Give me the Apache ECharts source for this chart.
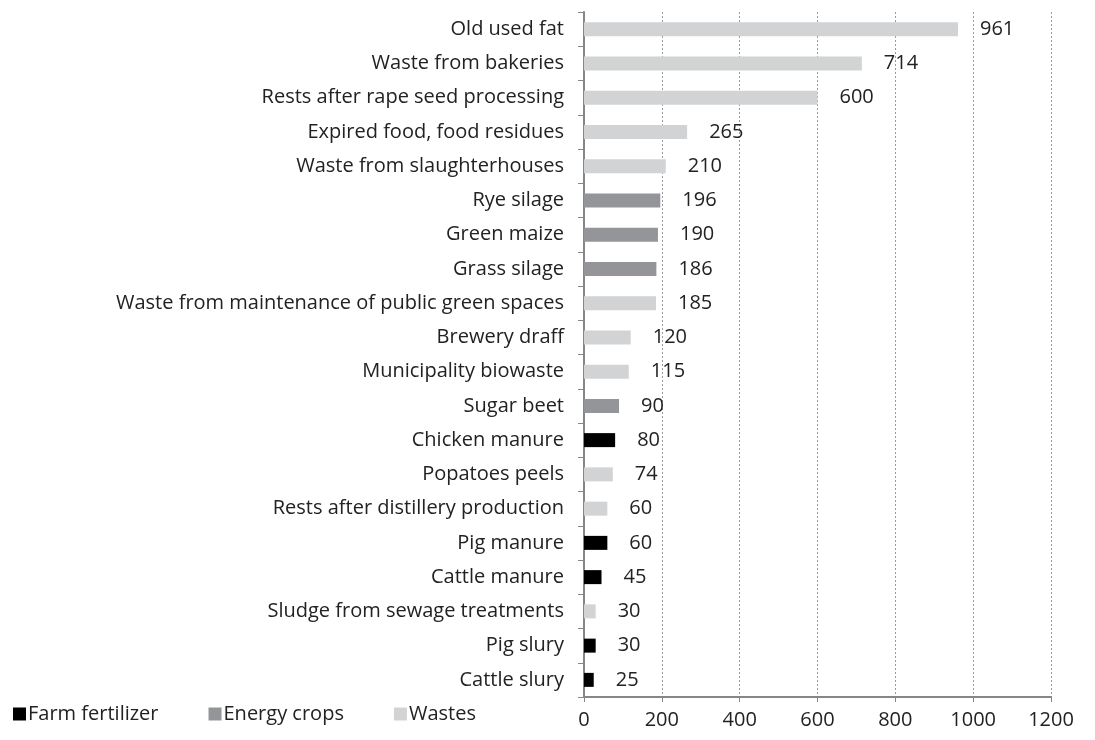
<!DOCTYPE html>
<html>
<head>
<meta charset="utf-8">
<script src="https://cdn.jsdelivr.net/npm/echarts@6/dist/echarts.min.js"></script>
<style>
  html, body { margin: 0; padding: 0; background: #fff; }
  #chart { width: 1095px; height: 740px; }
</style>
</head>
<body>
<div id="chart"></div>
<script>
const categories = [
    'Old used fat', 'Waste from bakeries', 'Rests after rape seed processing',
    'Expired food, food residues', 'Waste from slaughterhouses', 'Rye silage',
    'Green maize', 'Grass silage', 'Waste from maintenance of public green spaces',
    'Brewery draff', 'Municipality biowaste', 'Sugar beet', 'Chicken manure',
    'Popatoes peels', 'Rests after distillery production', 'Pig manure',
    'Cattle manure', 'Sludge from sewage treatments', 'Pig slury', 'Cattle slury'
];
const values = [961, 714, 600, 265, 210, 196, 190, 186, 185, 120, 115, 90, 80, 74, 60, 60, 45, 30, 30, 25];
// 0 = Farm fertilizer, 1 = Energy crops, 2 = Wastes
const groups = [2, 2, 2, 2, 2, 1, 1, 1, 2, 2, 2, 1, 0, 2, 2, 0, 0, 2, 0, 0];
const groupNames = ['Farm fertilizer', 'Energy crops', 'Wastes'];
const groupColors = ['#000000', '#939598', '#d1d3d4'];
const xTicks = [0, 200, 400, 600, 800, 1000, 1200];

const chart = echarts.init(document.getElementById('chart'));
const font = 'Open Sans';

const series = groupNames.map((name, g) => ({
    name: name,
    type: 'bar',
    stack: 'all',
    barWidth: 14,
    itemStyle: { color: groupColors[g] },
    label: {
        show: true,
        position: 'right',
        distance: 22,
        color: '#222',
        fontFamily: font,
        fontSize: 20
    },
    data: values.map((v, i) => (groups[i] === g ? v : '-'))
}));

const option = {
    animation: false,
    textStyle: { fontFamily: font },
    grid: { left: 584, right: 44, top: 12, bottom: 43, containLabel: false },
    legend: {
        left: 8,
        bottom: 11,
        itemWidth: 13,
        itemHeight: 13,
        itemGap: 50,
        icon: 'rect',
        textStyle: { fontFamily: font, fontSize: 20, color: '#222', padding: [0, 0, 0, -3] },
        data: groupNames
    },
    xAxis: {
        type: 'value',
        min: xTicks[0],
        max: xTicks[xTicks.length - 1],
        interval: 200,
        axisLine: { show: true, lineStyle: { color: '#868686', width: 2 } },
        axisTick: { show: true, length: 5, lineStyle: { color: '#868686' } },
        axisLabel: {
            color: '#222', fontFamily: font, fontSize: 20, margin: 13,
            formatter: v => String(v)
        },
        splitLine: { show: true, lineStyle: { color: '#9a9a9a', type: [2, 2], width: 1 } }
    },
    yAxis: {
        type: 'category',
        inverse: true,
        data: categories,
        axisLine: { show: true, lineStyle: { color: '#868686', width: 2 } },
        axisTick: { show: true, length: 6, lineStyle: { color: '#868686' } },
        axisLabel: { color: '#222', fontFamily: font, fontSize: 20, margin: 20 }
    },
    series: series
};

chart.setOption(option);
</script>
</body>
</html>
